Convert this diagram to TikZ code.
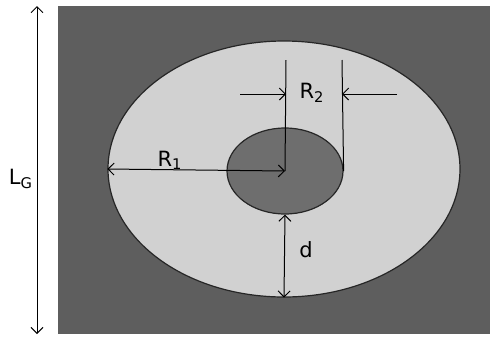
\documentclass[tikz,border=0pt]{standalone}
\usepackage{fontspec}
\setmainfont{DejaVu Sans}
\usetikzlibrary{arrows.meta, shapes.geometric}

\begin{document}
\begin{tikzpicture}[
	x=0.5pt, y=-0.5pt,
	region/.style={ellipse, draw=black!85, line width=0.6pt, inner sep=0pt},
	dim/.style={{Straight Barb[length=3pt]}-{Straight Barb[length=3pt]}, line width=0.5pt},
	arrow/.style={-{Straight Barb[length=3pt]}, line width=0.5pt},
	lbl/.style={font=\fontsize{10.5}{12}\selectfont}
]
	\useasboundingbox (0,0) rectangle (494,339);

	% Plate and regions
	\node[fill=black!63, minimum width=216pt, minimum height=164pt, inner sep=0pt, anchor=north west] (plate) at (58,6) {};
	\node[region, fill=black!18, minimum width=176pt, minimum height=128pt] (outer) at (284,169) {};
	\node[region, fill=black!57, minimum width=58pt, minimum height=43pt] (inner) at (285,171) {};

	% Helper points
	\coordinate (lgtop) at (37,6);
	\coordinate (lgbot) at (37,334);
	\coordinate (mid) at (286,60);
	\coordinate (edge) at (342,60);
	\coordinate (r2left) at (240,94);
	\coordinate (r2right) at (397,94);

	% Dimension lines
	\draw[dim] (lgtop) -- (lgbot);
	\draw[dim] (outer.west) -- (inner.center);
	\draw[line width=0.5pt] (inner.center) -- (mid);
	\draw[line width=0.5pt] (inner.east) -- (edge);
	\draw[arrow] (r2left) -- (r2left -| mid);
	\draw[arrow] (r2right) -- (r2right -| edge);
	\draw[dim] (inner.south) -- (outer.south);

	% Labels
	\node[lbl] (lg) at (21,179) {L\textsubscript{G}};
	\node[lbl] (r1) at (170,160) {R\textsubscript{1}};
	\node[lbl] (r2) at (312,93) {R\textsubscript{2}};
	\node[lbl] (dd) at (306,250) {d};
\end{tikzpicture}
\end{document}
